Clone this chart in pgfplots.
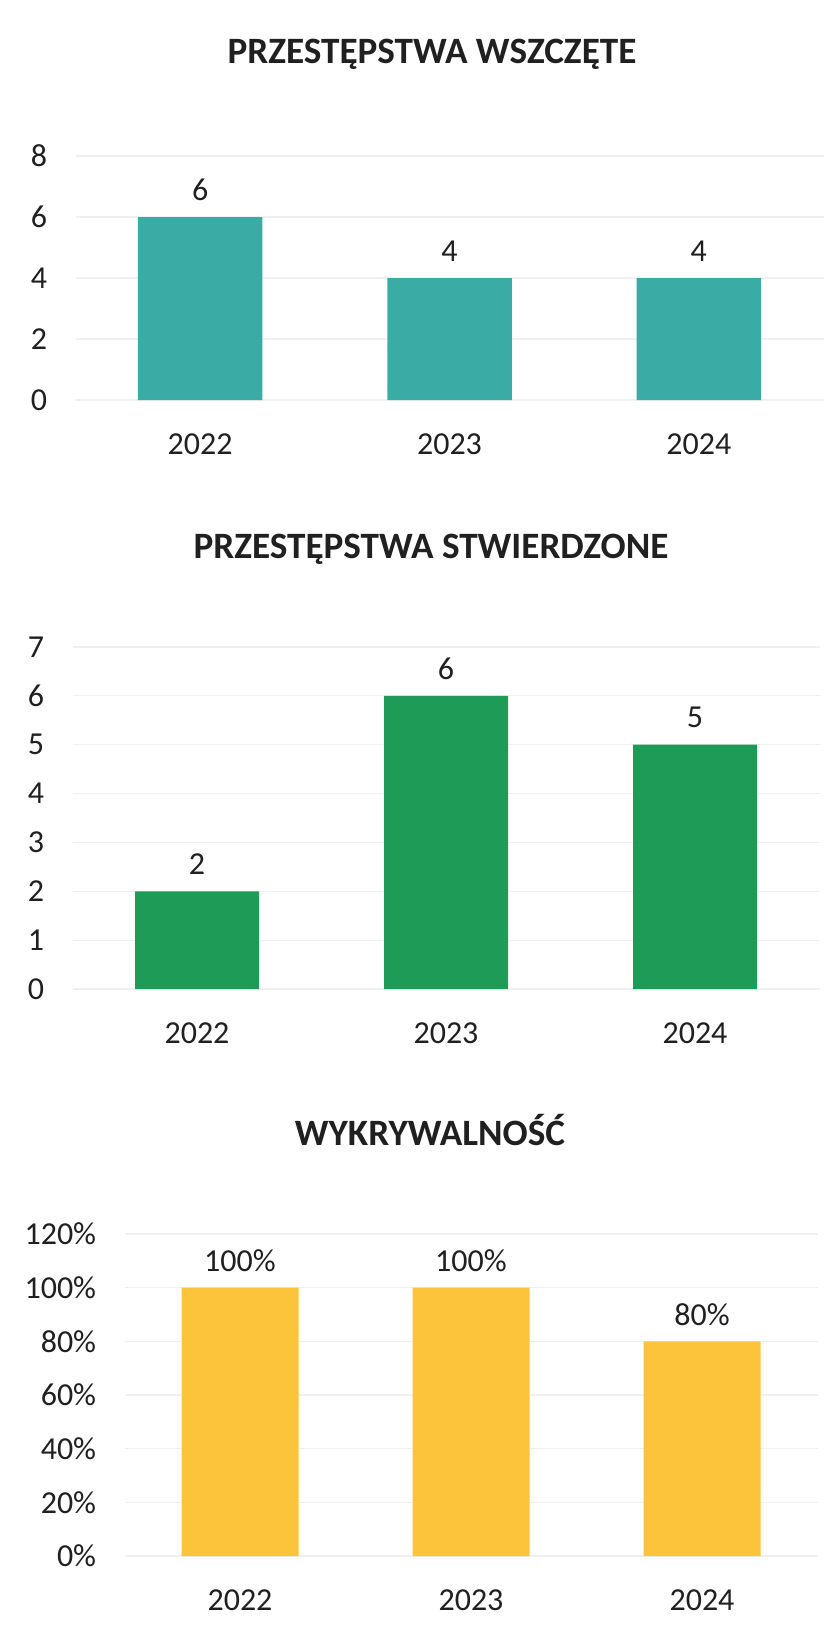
\documentclass[border=0pt]{standalone}
\usepackage{pgfplots}
\pgfplotsset{compat=1.18}
\usepackage{fontspec}
\setmainfont{Carlito}
\definecolor{tealbar}{RGB}{59,171,166}
\definecolor{greenbar}{RGB}{30,155,87}
\definecolor{yellowbar}{RGB}{252,196,58}
\definecolor{txt}{RGB}{32,32,32}
\definecolor{gridc}{RGB}{240,240,240}
\pgfplotsset{
 mybar/.style={
  scale only axis,
  anchor=south west,
  ybar,
  xmin=-0.5, xmax=2.5,
  xtick={0,1,2}, xticklabels={2022,2023,2024},
  axis line style={draw=none},
  major tick length=0pt,
  ymajorgrids, grid style={draw=gridc, line width=0.6pt},
  /pgf/number format/assume math mode=true,
  tick label style={font=\fontsize{16}{19}\selectfont, text=txt},
  xticklabel style={anchor=center, inner sep=0pt, yshift=-22pt},
  yticklabel style={anchor=east, inner sep=0pt, xshift=-14pt},
  nodes near coords style={font=\fontsize{16}{19}\selectfont, text=txt, anchor=center, yshift=13.5pt},
  clip=false,
 },
}
\begin{document}
\begin{tikzpicture}
\useasboundingbox (0,0) rectangle (418.5pt,-813.5pt);
\fill[white] (0,0) rectangle (418.5pt,-813.5pt);

\node[anchor=base, font=\bfseries\fontsize{18.6}{22}\selectfont, text=txt] at (216pt,-32pt) {PRZESTĘPSTWA WSZCZĘTE};
\node[anchor=base, font=\bfseries\fontsize{18.6}{22}\selectfont, text=txt] at (215.5pt,-279pt) {PRZESTĘPSTWA STWIERDZONE};
\node[anchor=base, font=\bfseries\fontsize{18.6}{22}\selectfont, text=txt] at (215pt,-572.5pt) {WYKRYWALNOŚĆ};

\begin{axis}[mybar, at={(37.75pt,-200pt)}, width=374pt, height=122pt,
  ymin=0, ymax=8, ytick={0,2,4,6,8}, bar width=62.25pt,
  yticklabel={\pgfmathprintnumber{\tick}},
  nodes near coords={\pgfmathprintnumber{\pgfplotspointmeta}}]
\addplot[fill=tealbar, draw=none] coordinates {(0,6) (1,4) (2,4)};
\end{axis}

\begin{axis}[mybar, at={(36.25pt,-494.5pt)}, width=373.5pt, height=171pt,
  ymin=0, ymax=7, ytick={0,1,...,7}, bar width=62pt,
  yticklabel={\pgfmathprintnumber{\tick}},
  nodes near coords={\pgfmathprintnumber{\pgfplotspointmeta}}]
\addplot[fill=greenbar, draw=none] coordinates {(0,2) (1,6) (2,5)};
\end{axis}

\begin{axis}[mybar, at={(62.25pt,-778pt)}, width=346.5pt, height=161pt,
  ymin=0, ymax=120, ytick={0,20,...,120}, bar width=58.5pt,
  yticklabel={\pgfmathprintnumber{\tick}\%},
  nodes near coords={\pgfmathprintnumber{\pgfplotspointmeta}\%}]
\addplot[fill=yellowbar, draw=none] coordinates {(0,100) (1,100) (2,80)};
\end{axis}
\end{tikzpicture}
\end{document}
